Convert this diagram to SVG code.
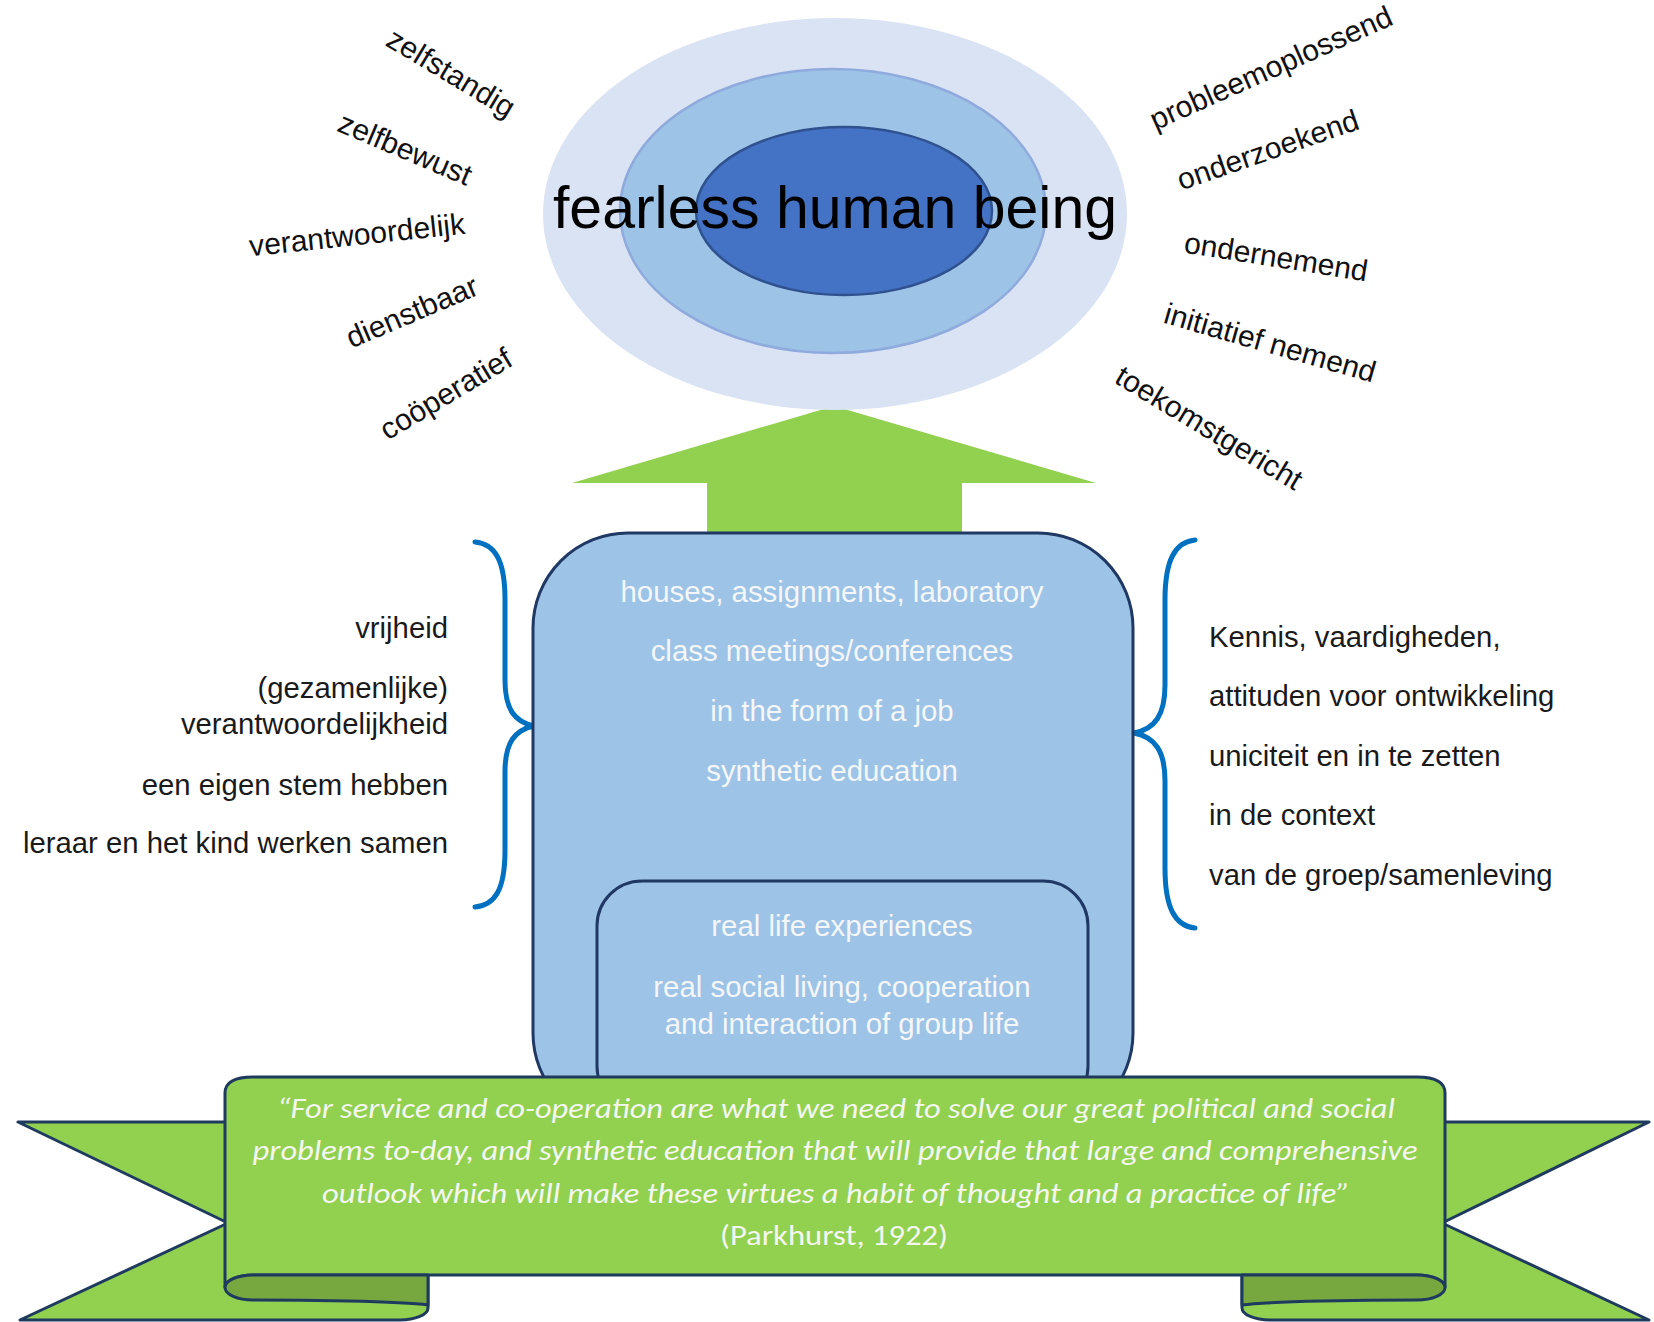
<svg xmlns="http://www.w3.org/2000/svg" width="1654" height="1322" viewBox="0 0 1654 1322">
<style>
.word{font-family:"Liberation Sans",Arial,sans-serif;font-size:30px;fill:#111;text-anchor:middle}
.side{font-family:"Liberation Sans",Arial,sans-serif;font-size:29.3px;fill:#1a1a1a}
.boxt{font-family:"Liberation Sans",Arial,sans-serif;font-size:29.4px;fill:#f4f6f8;text-anchor:middle}
.quote{font-family:Carlito,"Liberation Sans Narrow","Open Sans",sans-serif;font-style:italic;font-size:29px;fill:#f4f6f0;text-anchor:middle}
.cite{font-family:Carlito,"Liberation Sans Narrow","Open Sans",sans-serif;font-size:29px;fill:#f4f6f0;text-anchor:middle}
.brace{fill:none;stroke:#0070c0;stroke-width:5;stroke-linecap:round}
.rib{fill:#92d050;stroke:#1f3a5f;stroke-width:3;stroke-linejoin:round}
.fold{fill:#76a83f;stroke:#1f3a5f;stroke-width:3;stroke-linejoin:round}
.pillar{fill:#9dc3e6;stroke:#1f3864;stroke-width:3}
</style>
<rect width="1654" height="1322" fill="#fff"/>
<g id="connectors">
<path id="up-arrow" d="M834 406 L1096 483 L962 483 L962 540 L707 540 L707 483 L572 483 Z" fill="#92d050"/>
<path class="brace" d="M475 542 C495 544 505 560 505 600 L505 680 C505 710 515 722 534 726 C515 730 505 742 505 772 L505 850 C505 890 495 905 475 907"/>
<path class="brace" d="M1195 540 C1175 542 1165 560 1165 600 L1165 685 C1165 715 1155 729 1134 733 C1155 737 1165 751 1165 781 L1165 868 C1165 908 1175 926 1195 928"/>
</g>
<g id="goal">
<ellipse cx="835" cy="214" rx="292" ry="196" fill="#dae3f3"/>
<ellipse cx="833" cy="211" rx="213" ry="142" fill="#9dc3e6" stroke="#8faadc" stroke-width="2.5"/>
<ellipse cx="844" cy="211" rx="148" ry="84" fill="#4472c4" stroke="#2f528f" stroke-width="2.5"/>
<text x="835" y="228" font-family="'Liberation Sans',Arial,sans-serif" font-size="59" fill="#000" text-anchor="middle">fearless human being</text>
</g>
<g id="left-traits">
<text class="word" transform="translate(451 73) rotate(31)" y="10">zelfstandig</text>
<text class="word" transform="translate(405 149) rotate(23)" y="10">zelfbewust</text>
<text class="word" transform="translate(357 235) rotate(-6)" y="10">verantwoordelijk</text>
<text class="word" transform="translate(412 312) rotate(-23)" y="10">dienstbaar</text>
<text class="word" transform="translate(446 394) rotate(-31)" y="10">coöperatief</text>
</g>
<g id="right-traits">
<text class="word" transform="translate(1271 68) rotate(-24)" y="10">probleemoplossend</text>
<text class="word" transform="translate(1268 150) rotate(-19)" y="10">onderzoekend</text>
<text class="word" transform="translate(1276 257) rotate(9)" y="10">ondernemend</text>
<text class="word" transform="translate(1270 343) rotate(16)" y="10">initiatief nemend</text>
<text class="word" transform="translate(1209 428) rotate(31)" y="10">toekomstgericht</text>
</g>
<g id="left-values" text-anchor="end">
<text class="side" x="448" y="638" text-anchor="end">vrijheid</text>
<text class="side" x="448" y="698" text-anchor="end">(gezamenlijke)</text>
<text class="side" x="448" y="734" text-anchor="end">verantwoordelijkheid</text>
<text class="side" x="448" y="795" text-anchor="end">een eigen stem hebben</text>
<text class="side" x="448" y="853" text-anchor="end">leraar en het kind werken samen</text>
</g>
<g id="right-values">
<text class="side" x="1209" y="647">Kennis, vaardigheden,</text>
<text class="side" x="1209" y="706">attituden voor ontwikkeling</text>
<text class="side" x="1209" y="766">uniciteit en in te zetten</text>
<text class="side" x="1209" y="825">in de context</text>
<text class="side" x="1209" y="885">van de groep/samenleving</text>
</g>
<g id="pillar">
<rect class="pillar" x="533" y="533" width="600" height="595" rx="95" ry="95"/>
<text class="boxt" x="832" y="602">houses, assignments, laboratory</text>
<text class="boxt" x="832" y="661">class meetings/conferences</text>
<text class="boxt" x="832" y="721">in the form of a job</text>
<text class="boxt" x="832" y="781">synthetic education</text>
</g>
<g id="inner-box">
<rect class="pillar" x="597" y="881" width="491" height="230" rx="45" ry="45"/>
<text class="boxt" x="842" y="936">real life experiences</text>
<text class="boxt" x="842" y="997">real social living, cooperation</text>
<text class="boxt" x="842" y="1034">and interaction of group life</text>
</g>
<g id="ribbon">
<path class="rib" d="M18 1122 H428 V1308 A28 12 0 0 1 400 1320 H20 L228 1223 Z"/>
<path class="rib" d="M1649 1122 H1242 V1308 A28 12 0 0 0 1270 1320 H1649 L1442 1223 Z"/>
<path class="rib" d="M225 1093 Q225 1077 253 1077 H1417 Q1445 1077 1445 1093 V1287 A28 12.5 0 0 0 1417 1275 H253 A28 12.5 0 0 0 225 1287 Z"/>
<path class="fold" d="M253 1275 H428 V1305 C400 1301 300 1300 253 1300 A28 12.5 0 0 1 253 1275 Z"/>
<path class="fold" d="M1417 1275 H1242 V1305 C1270 1301 1370 1300 1417 1300 A28 12.5 0 0 0 1417 1275 Z"/>
<text class="quote" x="836" y="1118" textLength="1118" lengthAdjust="spacingAndGlyphs">“For service and co-operation are what we need to solve our great political and social</text>
<text class="quote" x="835" y="1160" textLength="1165" lengthAdjust="spacingAndGlyphs">problems to-day, and synthetic education that will provide that large and comprehensive</text>
<text class="quote" x="836" y="1203" textLength="1028" lengthAdjust="spacingAndGlyphs">outlook which will make these virtues a habit of thought and a practice of life”</text>
<text class="cite" x="834" y="1245" textLength="228" lengthAdjust="spacingAndGlyphs">(Parkhurst, 1922)</text>
</g>
</svg>
